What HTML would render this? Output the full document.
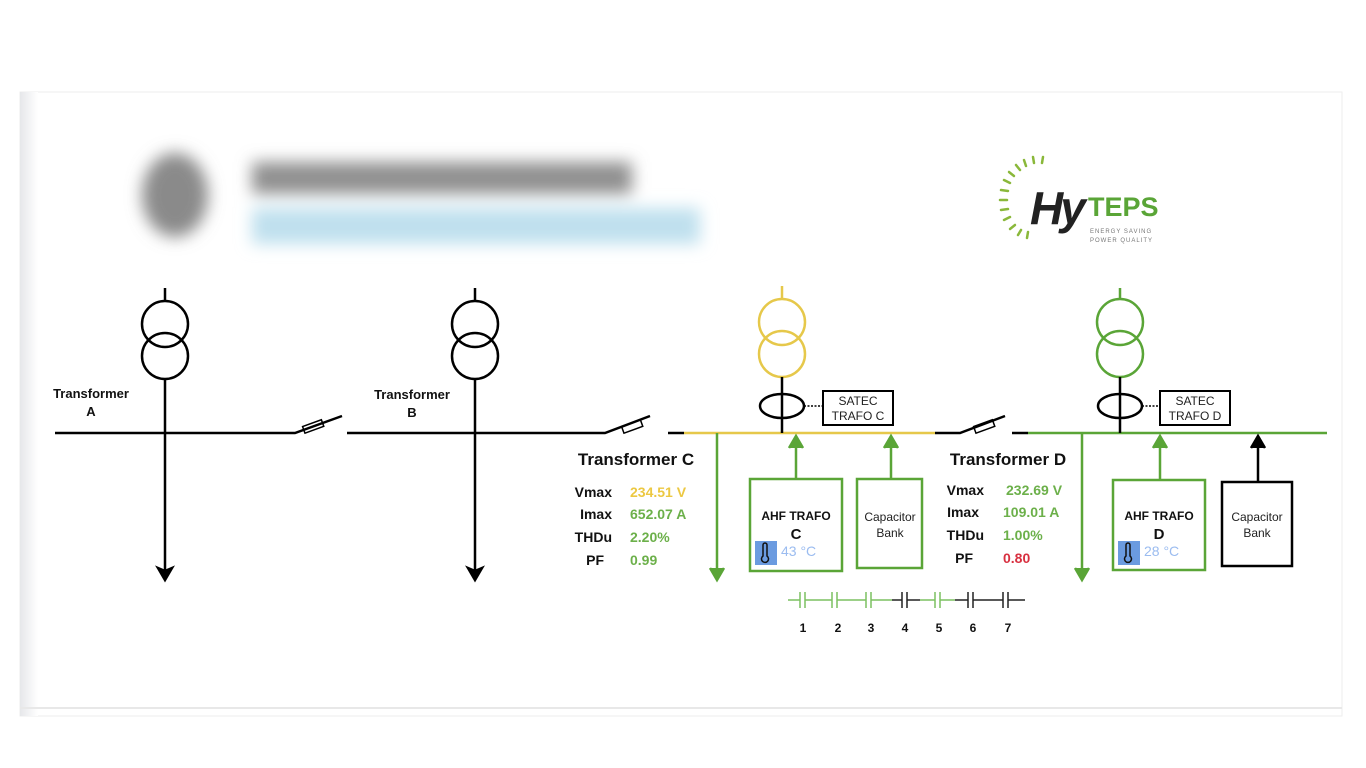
<!DOCTYPE html>
<html><head><meta charset="utf-8"><style>
html,body{margin:0;padding:0;background:#fff;width:1366px;height:768px;overflow:hidden}
svg{display:block}
text{font-family:"Liberation Sans",Arial,sans-serif}
</style></head><body>
<svg width="1366" height="768" viewBox="0 0 1366 768" xmlns="http://www.w3.org/2000/svg">
<defs>
<filter id="bl" x="-20%" y="-50%" width="140%" height="200%"><feGaussianBlur stdDeviation="8"/></filter>
<linearGradient id="lg" x1="0" x2="1"><stop offset="0" stop-color="#e6e7ea"/><stop offset="1" stop-color="#fff"/></linearGradient>
</defs>
<rect x="20" y="92" width="1322" height="624" fill="#fff" stroke="#eeeeee"/>
<rect x="20" y="92" width="18" height="624" fill="url(#lg)"/>
<line x1="20" y1="708" x2="1342" y2="708" stroke="#e8e8e8" stroke-width="2"/>
<g filter="url(#bl)">
<ellipse cx="175" cy="195" rx="33" ry="42" fill="#8a8a8a"/>
<rect x="252" y="162" width="380" height="32" fill="#909090"/>
<rect x="252" y="208" width="448" height="36" fill="#bfe0ee"/>
</g>
<g stroke="#8ab83a" stroke-width="2.5" stroke-linecap="round">
<line x1="1000" y1="200" x2="1007" y2="200"/><line x1="1001" y1="190" x2="1008" y2="191"/><line x1="1004" y1="180" x2="1010" y2="183"/>
<line x1="1009" y1="172" x2="1014" y2="176"/><line x1="1016" y1="165" x2="1020" y2="170"/><line x1="1024" y1="160" x2="1026" y2="166"/>
<line x1="1033" y1="157" x2="1034" y2="163"/><line x1="1043" y1="157" x2="1042" y2="163"/><line x1="1001" y1="210" x2="1008" y2="209"/>
<line x1="1004" y1="220" x2="1010" y2="217"/><line x1="1010" y1="229" x2="1015" y2="225"/><line x1="1018" y1="235" x2="1021" y2="230"/><line x1="1027" y1="238" x2="1028" y2="232"/>
</g>
<text x="1030" y="224" font-size="46" font-style="italic" font-weight="bold" fill="#222" letter-spacing="-3">Hy</text>
<text x="1088" y="216" font-size="27" font-weight="bold" fill="#5aa537">TEPS</text>
<text x="1090" y="233" font-size="6" fill="#777" letter-spacing="1">ENERGY SAVING</text>
<text x="1090" y="242" font-size="6" fill="#777" letter-spacing="1">POWER QUALITY</text>
<g fill="none" stroke-width="2.5">
<g stroke="#000">
<line x1="165" y1="288" x2="165" y2="302"/><circle cx="165" cy="324" r="23"/><circle cx="165" cy="356" r="23"/>
<line x1="165" y1="379" x2="165" y2="574"/><path d="M158,568 L165,580 L172,568 L165,571z" fill="#000"/>
<path d="M55,433 H295 L342,416"/>
<rect x="303" y="423" width="20" height="7" transform="rotate(-20 313 426)" stroke-width="1.5"/>
<line x1="475" y1="288" x2="475" y2="302"/><circle cx="475" cy="324" r="23"/><circle cx="475" cy="356" r="23"/>
<line x1="475" y1="379" x2="475" y2="574"/><path d="M468,568 L475,580 L482,568 L475,571z" fill="#000"/>
<path d="M347,433 H605 L650,416"/>
<rect x="622" y="423" width="20" height="7" transform="rotate(-20 632 426)" stroke-width="1.5"/>
<line x1="668" y1="433" x2="684" y2="433"/>
<path d="M935,433 H960 L1005,416"/>
<rect x="974" y="423" width="20" height="7" transform="rotate(-20 984 426)" stroke-width="1.5"/>
<line x1="1012" y1="433" x2="1028" y2="433"/>
</g>
<g stroke="#e6c84a">
<line x1="782" y1="286" x2="782" y2="300"/><circle cx="782" cy="322" r="23"/><circle cx="782" cy="354" r="23"/>
<line x1="684" y1="433" x2="935" y2="433"/>
</g>
<g stroke="#000">
<line x1="782" y1="377" x2="782" y2="433"/>
<ellipse cx="782" cy="406" rx="22" ry="12"/>
<path d="M804,406 H823" stroke-width="1.5" stroke-dasharray="2 1.5"/>
<rect x="823" y="391" width="70" height="34" stroke-width="2"/>
</g>
<g stroke="#5aa537">
<line x1="717" y1="433" x2="717" y2="576"/><path d="M710,568 L717,580 L724,568" fill="#5aa537"/>
<line x1="796" y1="478" x2="796" y2="442"/><path d="M789,448 L796,436 L803,448" fill="#5aa537"/>
<line x1="891" y1="478" x2="891" y2="442"/><path d="M884,448 L891,436 L898,448" fill="#5aa537"/>
<rect x="750" y="479" width="92" height="92"/>
<rect x="857" y="479" width="65" height="89"/>
</g>
<g stroke="#5aa537">
<line x1="1120" y1="288" x2="1120" y2="300"/><circle cx="1120" cy="322" r="23"/><circle cx="1120" cy="354" r="23"/>
<line x1="1028" y1="433" x2="1327" y2="433"/>
<line x1="1082" y1="433" x2="1082" y2="576"/><path d="M1075,568 L1082,580 L1089,568" fill="#5aa537"/>
<line x1="1160" y1="480" x2="1160" y2="442"/><path d="M1153,448 L1160,436 L1167,448" fill="#5aa537"/>
<rect x="1113" y="480" width="92" height="90"/>
</g>
<g stroke="#000">
<line x1="1120" y1="377" x2="1120" y2="433"/>
<ellipse cx="1120" cy="406" rx="22" ry="12"/>
<path d="M1142,406 H1160" stroke-width="1.5" stroke-dasharray="2 1.5"/>
<rect x="1160" y="391" width="70" height="34" stroke-width="2"/>
<line x1="1258" y1="482" x2="1258" y2="442"/><path d="M1251,448 L1258,436 L1265,448" fill="#000"/>
<rect x="1222" y="482" width="70" height="84"/>
</g>
<g stroke-width="1.5">
<g stroke="#7cc060"><path d="M788,600 H800 M800,592 V608 M805,592 V608 M805,600 H832 M832,592 V608 M837,592 V608 M837,600 H866 M866,592 V608 M871,592 V608 M871,600 H892"/>
<path d="M920,600 H935 M935,592 V608 M940,592 V608 M940,600 H955"/></g>
<g stroke="#222"><path d="M892,600 H902 M902,592 V608 M907,592 V608 M907,600 H920"/>
<path d="M955,600 H968 M968,592 V608 M973,592 V608 M973,600 H1003 M1003,592 V608 M1008,592 V608 M1008,600 H1025"/></g>
</g>
</g>
<rect x="755" y="541" width="22" height="24" fill="#6b9be0"/>
<rect x="1118" y="541" width="22" height="24" fill="#6b9be0"/>
<g fill="none" stroke="#111" stroke-width="1.5"><path d="M763,545 v11 a3.5,3.5 0 1 0 4,0 v-11 a2,2 0 0 0 -4,0z"/><path d="M1126,545 v11 a3.5,3.5 0 1 0 4,0 v-11 a2,2 0 0 0 -4,0z"/></g>
<g font-weight="bold" font-size="13" fill="#111" text-anchor="middle">
<text x="91" y="398">Transformer</text><text x="91" y="416">A</text>
<text x="412" y="399">Transformer</text><text x="412" y="417">B</text>
<text x="636" y="465" font-size="17">Transformer C</text>
<text x="1008" y="465" font-size="17">Transformer D</text>
<text x="796" y="520" font-size="12">AHF TRAFO</text><text x="796" y="539" font-size="15">C</text>
<text x="1159" y="520" font-size="12">AHF TRAFO</text><text x="1159" y="539" font-size="15">D</text>
<g font-size="12"><text x="803" y="632">1</text><text x="838" y="632">2</text><text x="871" y="632">3</text><text x="905" y="632">4</text><text x="939" y="632">5</text><text x="973" y="632">6</text><text x="1008" y="632">7</text></g>
</g>
<g font-weight="bold" font-size="14" fill="#111" text-anchor="end">
<text x="612" y="497">Vmax</text><text x="612" y="519">Imax</text><text x="612" y="542">THDu</text><text x="604" y="565">PF</text>
<text x="984" y="495">Vmax</text><text x="979" y="517">Imax</text><text x="984" y="540">THDu</text><text x="973" y="563">PF</text>
</g>
<g font-weight="bold" font-size="14">
<text x="630" y="497" fill="#ecc842">234.51 V</text><text x="630" y="519" fill="#6cb04a">652.07 A</text><text x="630" y="542" fill="#6cb04a">2.20%</text><text x="630" y="565" fill="#6cb04a">0.99</text>
<text x="1006" y="495" fill="#6cb04a">232.69 V</text><text x="1003" y="517" fill="#6cb04a">109.01 A</text><text x="1003" y="540" fill="#6cb04a">1.00%</text><text x="1003" y="563" fill="#d83040">0.80</text>
</g>
<g font-size="12" fill="#222" text-anchor="middle">
<text x="858" y="405">SATEC</text><text x="858" y="420">TRAFO C</text>
<text x="1195" y="405">SATEC</text><text x="1195" y="420">TRAFO D</text>
<text x="890" y="521">Capacitor</text><text x="890" y="537">Bank</text>
<text x="1257" y="521">Capacitor</text><text x="1257" y="537">Bank</text>
</g>
<text x="781" y="556" font-size="14" fill="#9bbcf0">43 °C</text>
<text x="1144" y="556" font-size="14" fill="#9bbcf0">28 °C</text>
</svg>
</body></html>
